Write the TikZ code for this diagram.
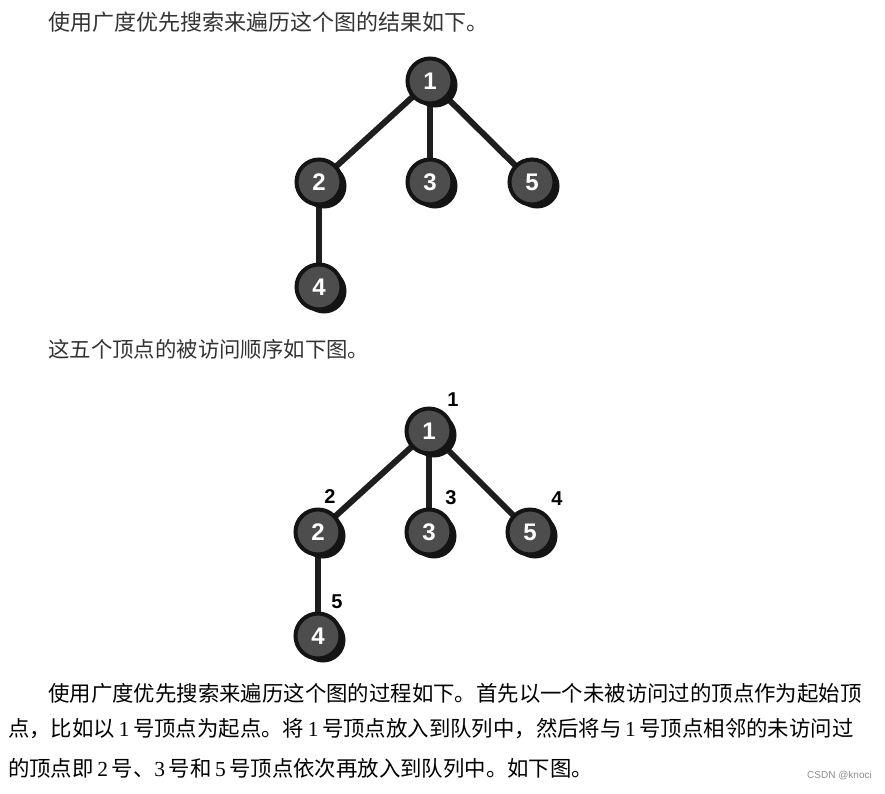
\documentclass[tikz,border=0pt]{standalone}
\usepackage{fontspec}
\setsansfont{Liberation Sans}
\newfontfamily\cjk{Noto Sans CJK SC}
\newfontfamily\tnr{Liberation Serif}
\usetikzlibrary{shadows,backgrounds}
\definecolor{vfill}{HTML}{4d4d4d}
\definecolor{edgec}{HTML}{1e1e1e}
\tikzset{
  vtx/.style={circle, minimum size=45pt, inner sep=0pt, fill=vfill, draw=black!92, line width=4pt,
    text=white, font=\sffamily\bfseries\fontsize{24}{24}\selectfont,
    drop shadow={shadow xshift=5pt, shadow yshift=-4pt, fill=black!92, opacity=1}},
  tedge/.style={edgec, line width=6pt},
  ord/.style={font=\sffamily\bfseries\fontsize{20}{20}\selectfont, text=black, inner sep=0pt},
  txt/.style={anchor=west, inner sep=0pt, text=black!80, font=\cjk\fontsize{22}{22}\selectfont},
  para/.style={anchor=west, inner sep=0pt, text=black, font=\cjk\fontsize{21.4}{21}\selectfont},
}
\newcommand{\tn}[1]{{\tnr #1}}
\begin{document}
\begin{tikzpicture}[x=1pt,y=-1pt]
\useasboundingbox (0,0) rectangle (885,793);

\node[txt] (t1) at (48,22) {使用广度优先搜索来遍历这个图的结果如下。};

% tree 1
\node[vtx] (a1) at (430,81) {1};
\node[vtx] (a2) at (319,182) {2};
\node[vtx] (a3) at (430,182) {3};
\node[vtx] (a5) at (532,182) {5};
\node[vtx] (a4) at (319,287) {4};

\node[txt, font=\cjk\fontsize{21.4}{21}\selectfont] (t2) at (48,349) {这五个顶点的被访问顺序如下图。};

% tree 2
\node[vtx] (b1) at (429,431) {1};
\node[vtx] (b2) at (318,532) {2};
\node[vtx] (b3) at (429,532) {3};
\node[vtx] (b5) at (530,532) {5};
\node[vtx] (b4) at (318,636) {4};

\node[ord] (o1) at (453,400) {1};
\node[ord] (o2) at (330,497) {2};
\node[ord] (o3) at (451,498) {3};
\node[ord] (o4) at (557,499) {4};
\node[ord] (o5) at (337,602) {5};

\node[para] (p1) at (48,693) {使用广度优先搜索来遍历这个图的过程如下。首先以一个未被访问过的顶点作为起始顶};
\node[para] (p2) at (8,729) {点，比如以\,\tn{1}\,号顶点为起点。将\,\tn{1}\,号顶点放入到队列中，然后将与\,\tn{1}\,号顶点相邻的未访问过};
\node[para] (p3) at (8,768) {的顶点即\,\tn{2}\,号、\tn{3}\,号和\,\tn{5}\,号顶点依次再放入到队列中。如下图。};

\node[anchor=east, inner sep=0pt, text=black!45, font=\sffamily\fontsize{10}{10}\selectfont] (wm) at (872,776) {CSDN @knoci};

\begin{pgfonlayer}{background}
  \fill[white] (0,0) rectangle (885,793);
  \draw[tedge] (a1.center) -- (a2.center);
  \draw[tedge] (a1.center) -- (a3.center);
  \draw[tedge] (a1.center) -- (a5.center);
  \draw[tedge] (a2.center) -- (a4.center);
  \draw[tedge] (b1.center) -- (b2.center);
  \draw[tedge] (b1.center) -- (b3.center);
  \draw[tedge] (b1.center) -- (b5.center);
  \draw[tedge] (b2.center) -- (b4.center);
\end{pgfonlayer}
\end{tikzpicture}
\end{document}
